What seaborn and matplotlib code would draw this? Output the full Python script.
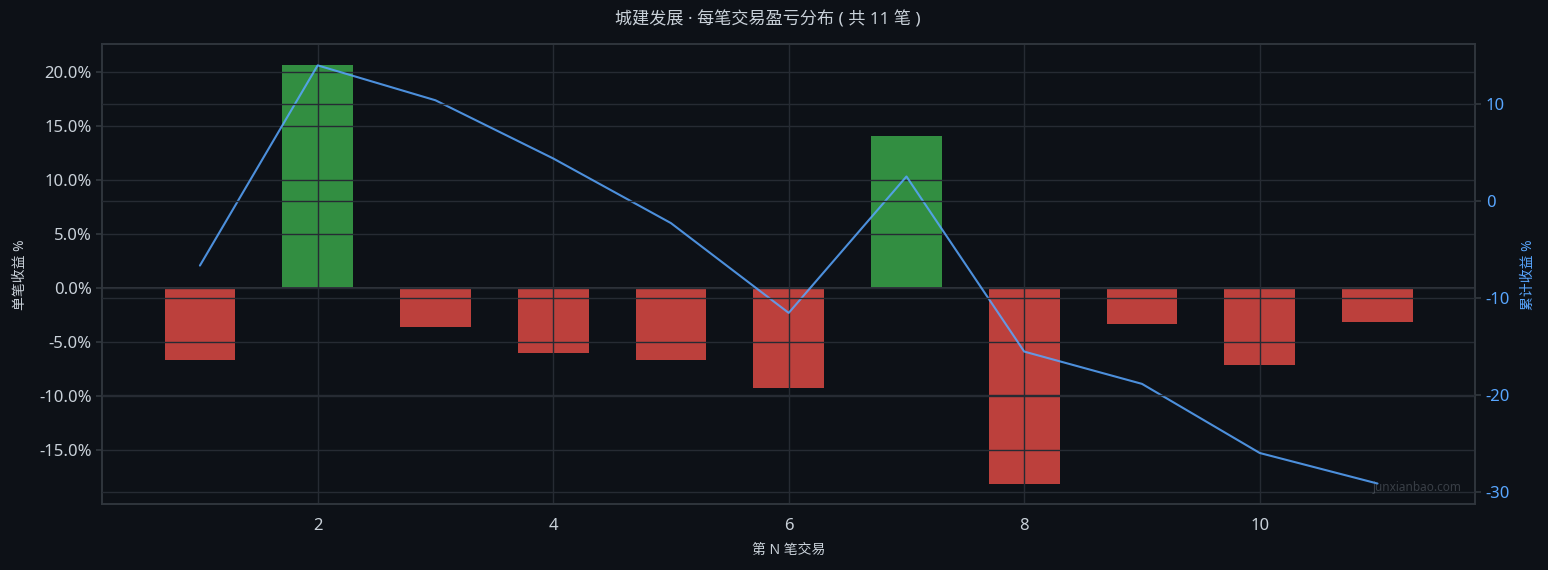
import pandas as pd
import seaborn as sns
import matplotlib
matplotlib.use("Agg")
import matplotlib.pyplot as plt
from matplotlib.ticker import FuncFormatter

# per-trade data
trade_no = [1, 2, 3, 4, 5, 6, 7, 8, 9, 10, 11]
trade_ret = [-6.67, 20.65, -3.60, -6.00, -6.67, -9.26, 14.07, -18.06, -3.33, -7.13, -3.15]
cum_ret = [-6.67, 13.98, 10.38, 4.38, -2.29, -11.55, 2.52, -15.54, -18.87, -26.00, -29.15]

BG = "#0d1117"
TEXT = "#c9d1d9"
GRID = "#262b33"
SPINE = "#30363d"
BLUE = "#58a6ff"

sns.set_theme(style="dark")
plt.rcParams["font.family"] = ["Noto Sans", "Noto Sans CJK SC", "DejaVu Sans"]
plt.rcParams["axes.unicode_minus"] = False
plt.rcParams["axes.axisbelow"] = False

df = pd.DataFrame({"n": trade_no, "ret": trade_ret, "cum": cum_ret})
df["side"] = ["win" if r > 0 else "loss" for r in trade_ret]

fig, ax = plt.subplots(figsize=(15.48, 5.7), dpi=100)
fig.patch.set_facecolor(BG)
ax.set_facecolor(BG)

sns.barplot(data=df, x="n", y="ret", hue="side", native_scale=True,
            palette={"win": "#3fb950", "loss": "#f85149"}, alpha=0.75,
            saturation=1, width=0.6, dodge=False, legend=False,
            edgecolor="none", linewidth=0, ax=ax)
ax.axhline(0, color=SPINE, lw=1.4)

ax2 = ax.twinx()
sns.lineplot(data=df, x="n", y="cum", color=BLUE, alpha=0.85, lw=1.5, ax=ax2)

ax.yaxis.set_major_formatter(FuncFormatter(lambda v, _: f"{v:.1f}%"))
ax.set_xticks([2, 4, 6, 8, 10])

for a in (ax, ax2):
    a.grid(True, color=GRID, lw=1)
    for s in a.spines.values():
        s.set_color(SPINE)
        s.set_linewidth(1.2)
ax2.grid(False)
ax2.yaxis.grid(True, color=GRID, lw=1)

ax.tick_params(colors=TEXT, labelsize=12, length=4, color=SPINE)
ax.tick_params(axis="x", pad=6)
ax2.tick_params(axis="y", colors=BLUE, labelsize=12, length=4)
ax2.tick_params(axis="y", color=SPINE)

ax.set_xlabel("第 N 笔交易", color=TEXT, fontsize=10, labelpad=6)
ax.set_ylabel("单笔收益 %", color=TEXT, fontsize=10, labelpad=8)
ax2.set_ylabel("累计收益 %", color=BLUE, fontsize=10, labelpad=8)
fig.suptitle("城建发展 · 每笔交易盈亏分布 ( 共 11 笔 )", color=TEXT, fontsize=12.3,
             x=0.496, y=0.965, va="center")

ax2.text(0.99, 0.022, "junxianbao.com", transform=ax2.transAxes, ha="right", va="bottom",
         color="#8b949e", alpha=0.35, fontsize=8.5)

fig.subplots_adjust(left=0.066, right=0.953, top=0.922, bottom=0.115)
fig.savefig("out.png", dpi=100, facecolor=BG)
